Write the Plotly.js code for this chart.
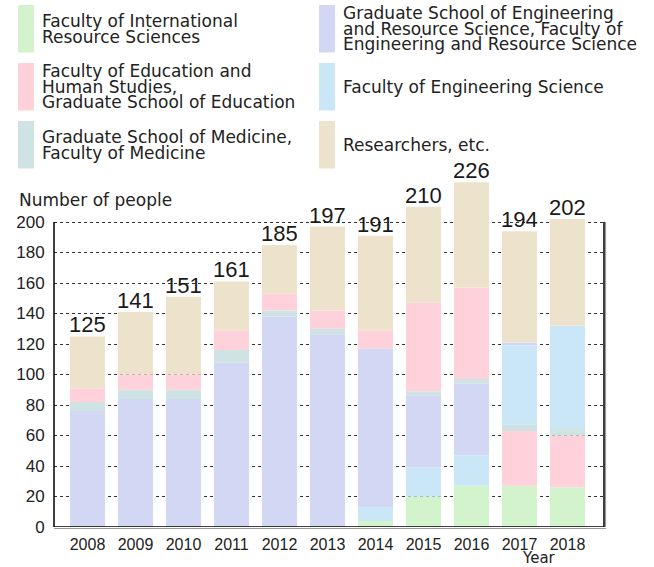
<!DOCTYPE html>
<html>
<head>
<meta charset="utf-8">
<script src="https://cdn.plot.ly/plotly-3.0.1.min.js"></script>
<style>html,body{margin:0;padding:0;background:#fff;}#chart{width:654px;height:567px;}</style>
</head>
<body>
<div id="chart"></div>
<script>
// ---------- data ----------
const years = ['2008','2009','2010','2011','2012','2013','2014','2015','2016','2017','2018'];
const intl   = [0, 0, 0, 0, 0, 0, 4, 20, 27, 27, 26];
const engRes = [76, 84, 84, 108, 138, 126, 104, 47, 47, 2, 0];
const edu    = [9, 10, 10, 13, 11, 12, 12, 58, 60, 36, 34];
const engSci = [0, 0, 0, 0, 0, 0, 9, 19, 20, 52, 67];
const med    = [6, 6, 6, 8, 4, 4, 0, 3, 3, 4, 5];
const res    = [34, 41, 51, 32, 32, 55, 62, 63, 69, 73, 70];

const seriesKeys = ['intl','engRes','edu','engSci','med','res'];
const seriesLabels = {
  intl:   ['Faculty of International', 'Resource Sciences'],
  engRes: ['Graduate School of Engineering', 'and Resource Science, Faculty of', 'Engineering and Resource Science'],
  edu:    ['Faculty of Education and', 'Human Studies,', 'Graduate School of Education'],
  engSci: ['Faculty of Engineering Science'],
  med:    ['Graduate School of Medicine,', 'Faculty of Medicine'],
  res:    ['Researchers, etc.']
};
// bottom-to-top stacking order used in each year
const orderA = ['intl','engSci','engRes','med','edu','res'];
const orderB = ['intl','edu','med','engSci','engRes','res'];
const stackOrder = [orderA,orderA,orderA,orderA,orderA,orderA,orderA,orderA,orderA,orderB,orderB];

const yTicks = [0,20,40,60,80,100,120,140,160,180,200];
const yTitle = 'Number of people';
const xTitle = 'Year';

// ---------- styles ----------
const values = {intl, engRes, edu, engSci, med, res};
const colors = {intl:'#d3f3cd', engRes:'#d2d8f3', edu:'#ffd1da', engSci:'#c9e7f7', med:'#cfe3e5', res:'#ede3cc'};
const legendCols = [['intl','edu','med'], ['engRes','engSci','res']];

const W = 654, H = 567, ML = 54, MR = 50, MT = 170, MB = 40;
const plotW = W - ML - MR, plotH = H - MT - MB;
const yMax = plotH * 200 / 305;
const px = p => (p - ML) / plotW;
const py = p => (H - MB - p) / plotH;
const textFont = {family: 'DejaVu Sans', size: 17, color: '#222'};

// ---------- bases from stacking order ----------
const bases = {};
seriesKeys.forEach(k => bases[k] = []);
years.forEach((yr, i) => {
  let acc = 0;
  stackOrder[i].forEach(k => { bases[k][i] = acc; acc += values[k][i]; });
});
const totals = years.map((yr, i) => seriesKeys.reduce((s, k) => s + values[k][i], 0));

const traces = seriesKeys.map(k => ({
  type: 'bar', x: years, y: values[k], base: bases[k], name: seriesLabels[k].join(' '),
  marker: {color: colors[k], line: {width: 0}}, width: 0.73, hoverinfo: 'skip', showlegend: false
}));

const annotations = [];
const shapes = [];
// totals
years.forEach((yr, i) => annotations.push({
  x: i, y: totals[i], xref: 'x', yref: 'y', text: String(totals[i]), showarrow: false,
  yanchor: 'bottom', xanchor: 'center', yshift: -3,
  font: {family: 'Liberation Sans', size: 22, color: '#1a1a1a'}
}));
// legend
const colX = [18, 319], rowY = [5, 63, 121], swW = 16, swH = 47.5, lineGap = 15.5, capH = 12.3;
legendCols.forEach((col, c) => col.forEach((k, r) => {
  shapes.push({type: 'rect', xref: 'paper', yref: 'paper', x0: px(colX[c]), x1: px(colX[c] + swW),
    y0: py(rowY[r]), y1: py(rowY[r] + swH), fillcolor: colors[k], line: {width: 0}});
  const lines = seriesLabels[k];
  const center = rowY[r] + swH / 2;
  const firstBase = center - (lineGap * (lines.length - 1) + capH) / 2 + capH;
  lines.forEach((t, j) => annotations.push({
    xref: 'paper', yref: 'paper', x: px(colX[c] + 22), y: py(firstBase + j * lineGap - 6),
    xanchor: 'left', yanchor: 'middle', text: t, showarrow: false, font: textFont
  }));
}));
// axis titles
annotations.push({xref: 'paper', yref: 'paper', x: px(17), y: py(205.7 - 6), xanchor: 'left', yanchor: 'middle',
  text: yTitle, showarrow: false, font: textFont});
annotations.push({xref: 'paper', yref: 'paper', x: px(539), y: py(563.5 - 5.5), xanchor: 'center', yanchor: 'middle',
  text: xTitle, showarrow: false, font: {family: 'DejaVu Sans', size: 15, color: '#222'}});
// frame lines
shapes.push({type: 'line', xref: 'paper', yref: 'y', x0: 0, x1: 0, y0: 0, y1: 200, line: {color: '#000', width: 1.5}});
shapes.push({type: 'line', xref: 'paper', yref: 'y', x0: px(605.5), x1: px(605.5), y0: 200, y1: 0, line: {color: '#999', width: 1.2}});
shapes.push({type: 'line', xref: 'paper', yref: 'y', x0: 1, x1: 1, y0: 0, y1: 200, line: {color: '#000', width: 1.5}});
shapes.push({type: 'line', xref: 'paper', yref: 'paper', x0: 0, x1: px(606), y0: py(528.5), y1: py(528.5), line: {color: '#999', width: 1.2}});
shapes.push({type: 'line', xref: 'paper', yref: 'y', x0: 0, x1: 1, y0: 0, y1: 0, line: {color: '#000', width: 1.5}});

const layout = {
  width: W, height: H, margin: {l: ML, r: MR, t: MT, b: MB, pad: 0},
  paper_bgcolor: '#fff', plot_bgcolor: '#fff', barmode: 'overlay', showlegend: false,
  xaxis: {type: 'category', range: [-0.698, 10.76], showgrid: false, zeroline: false, showline: false,
    ticks: 'outside', ticklen: 3, tickcolor: 'rgba(0,0,0,0)',
    tickfont: {family: 'Liberation Sans', size: 16, color: '#222'}, fixedrange: true},
  yaxis: {range: [0, yMax], tickvals: yTicks, ticktext: yTicks.map(String), showgrid: true,
    gridcolor: '#333', griddash: 'dot', gridwidth: 1, zeroline: false, showline: false,
    ticks: 'outside', ticklen: 5, tickcolor: 'rgba(0,0,0,0)',
    tickfont: {family: 'Liberation Sans', size: 17, color: '#222'}, fixedrange: true},
  annotations, shapes
};
Plotly.newPlot('chart', traces, layout, {staticPlot: true});
</script>
</body>
</html>
